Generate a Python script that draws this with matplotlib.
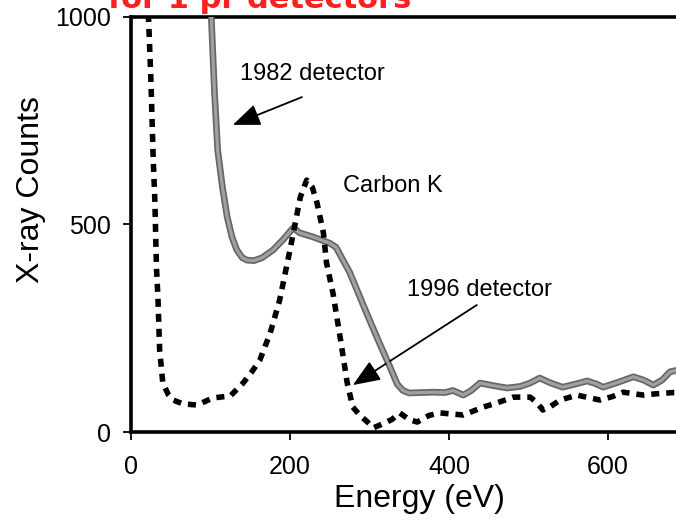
import matplotlib
matplotlib.use("Agg")
import matplotlib.pyplot as plt

# Energy (eV) and X-ray counts for the two detectors
energy_1982 = [95, 101, 105, 109, 115, 121, 127, 133, 140, 146, 155, 165, 179, 192, 204,
               212, 229, 250, 258, 265, 275, 288, 300, 313, 325, 335, 342, 350, 365, 380,
               395, 405, 418, 428, 439, 455, 473, 490, 502, 514, 528, 543, 558, 574, 585,
               594, 610, 632, 645, 657, 668, 678, 690, 700]
counts_1982 = [1080, 1000, 820, 680, 590, 518, 470, 439, 420, 414, 413, 420, 439, 465, 492,
               480, 470, 455, 445, 420, 385, 325, 270, 212, 160, 115, 100, 94, 95, 96,
               95, 100, 89, 100, 118, 112, 106, 110, 118, 130, 118, 108, 115, 123, 116,
               108, 118, 133, 125, 113, 125, 145, 150, 148]

energy_1996 = [20, 22, 25, 28, 30, 32, 34, 36, 40, 47, 53, 65, 83, 103, 125, 141, 152, 162,
               175, 187, 200, 213, 221, 228, 234, 242, 246, 254, 263, 272, 279, 288, 297,
               305, 317, 328, 338, 350, 360, 375, 389, 405, 418, 430, 443, 460, 481, 502,
               510, 518, 528, 540, 561, 575, 590, 605, 619, 644, 660, 682, 700]
counts_1996 = [1080, 1000, 850, 655, 559, 398, 318, 198, 118, 90, 77, 68, 65, 82, 87, 118,
               145, 173, 238, 318, 439, 566, 607, 590, 552, 480, 407, 335, 229, 118, 60, 40,
               25, 10, 20, 30, 46, 30, 24, 40, 46, 43, 41, 50, 60, 70, 84, 84, 72, 53, 62,
               77, 89, 83, 77, 85, 96, 89, 92, 95, 95]

x_ticks = [0, 200, 400, 600]
y_ticks = [0, 500, 1000]

plt.rcParams['font.family'] = ['Liberation Sans', 'DejaVu Sans']

fig = plt.figure(figsize=(6.76, 5.25), dpi=100)
ax = fig.add_axes([131 / 676, 93 / 525, 556.5 / 676, 415 / 525])

# 1982 detector: thick grey trace with darker rim
ax.plot(energy_1982, counts_1982, color='#666666', lw=4.8, solid_joinstyle='round',
        solid_capstyle='round', zorder=3)
ax.plot(energy_1982, counts_1982, color='#a0a0a0', lw=2.3, solid_joinstyle='round',
        zorder=3.1)

# 1996 detector: heavy square-dotted trace
ax.plot(energy_1996, counts_1996, color='black', lw=4.0, dashes=(1.45, 1.25),
        dash_capstyle='butt', zorder=4)

ax.set_xlim(0, 700)
ax.set_ylim(0, 1000)
ax.set_xticks(x_ticks)
ax.set_yticks(y_ticks)
ax.tick_params(axis='both', direction='out', length=5.5, width=1.3, labelsize=18)
ax.tick_params(axis='x', pad=11)
ax.tick_params(axis='y', pad=9)

for side in ('left', 'bottom', 'top'):
    ax.spines[side].set_linewidth(2.6)
ax.spines['right'].set_visible(False)

ax.set_xlabel('Energy (eV)', fontsize=23)
ax.xaxis.set_label_coords(0.5175, -0.125)
ax.set_ylabel('X-ray Counts', fontsize=23)
ax.yaxis.set_label_coords(-0.152, 0.583)

arrow = dict(arrowstyle='-|>,head_length=0.6,head_width=0.24', color='black', lw=1.3,
             mutation_scale=28, shrinkA=0, shrinkB=0)

ax.text(137, 863, '1982 detector', fontsize=17, va='center', ha='left')
ax.annotate('', xy=(128, 740), xytext=(215, 807), arrowprops=arrow)

ax.text(267, 593, 'Carbon K', fontsize=17, va='center', ha='left')

ax.text(347, 342, '1996 detector', fontsize=17, va='center', ha='left')
ax.annotate('', xy=(279, 113), xytext=(435, 306), arrowprops=arrow)

# heading above the plot, running off the top edge
fig.text(108 / 676, 1 - 8 / 525, 'for 1 pr detectors', color='#ff1f1f', fontsize=22,
         fontweight='bold', family='DejaVu Sans', ha='left', va='baseline')

fig.savefig('out.png', dpi=100)
